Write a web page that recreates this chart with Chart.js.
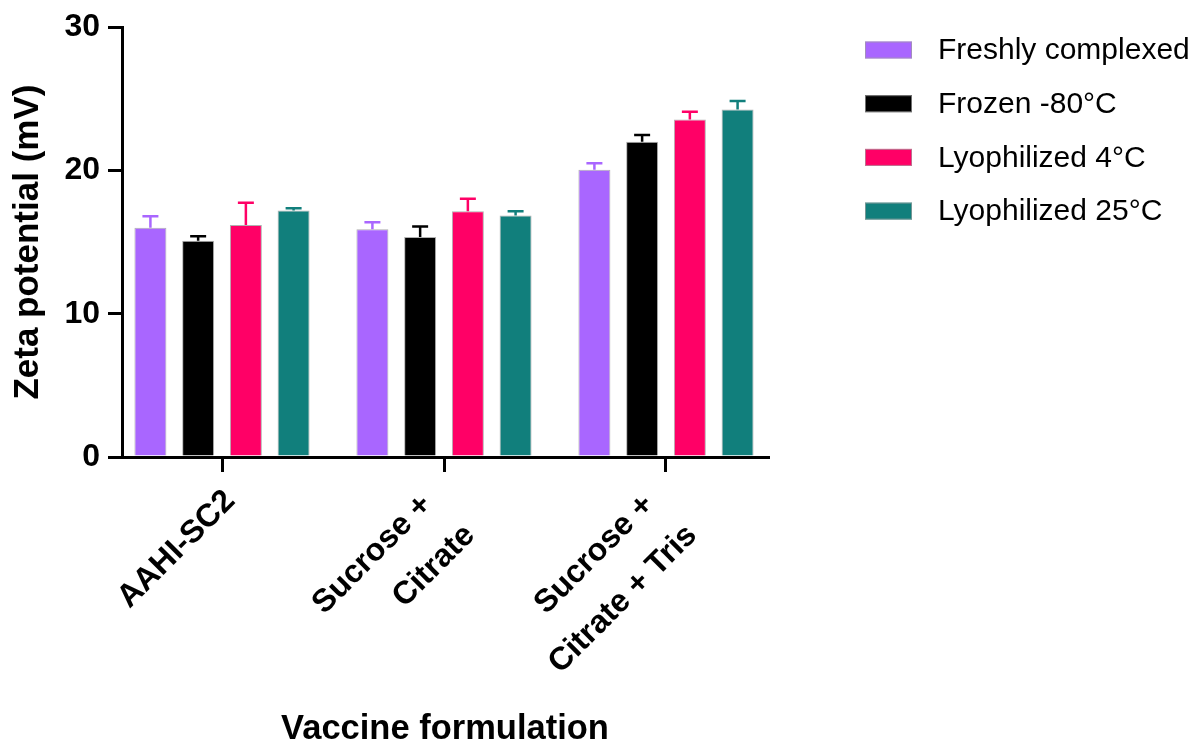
<!DOCTYPE html>
<html>
<head>
<meta charset="utf-8">
<script src="https://cdn.jsdelivr.net/npm/chart.js@4/dist/chart.umd.min.js"></script>
<style>
  html, body { margin: 0; padding: 0; background: #ffffff; }
  #wrap { width: 1197px; height: 747px; }
</style>
</head>
<body>
<div id="wrap"><canvas id="c" width="1197" height="747"></canvas></div>
<script>
// ---- data ----
const categories = ['AAHI-SC2', 'Sucrose + Citrate', 'Sucrose + Citrate + Tris'];
const tickLabels = [['AAHI-SC2'], ['Sucrose +', 'Citrate'], ['Sucrose +', 'Citrate + Tris']];
const seriesNames = ['Freshly complexed', 'Frozen -80\u00B0C', 'Lyophilized 4\u00B0C', 'Lyophilized 25\u00B0C'];
const seriesColors = ['#A966FF', '#000000', '#FF0066', '#117F7C'];

const freshly = [16.0, 15.9, 20.05];
const frozen = [15.1, 15.35, 22.0];
const lyo4 = [16.2, 17.15, 23.55];
const lyo25 = [17.2, 16.85, 24.25];

const freshlyErr = [0.8, 0.48, 0.46];
const frozenErr = [0.3, 0.74, 0.48];
const lyo4Err = [1.55, 0.88, 0.54];
const lyo25Err = [0.16, 0.3, 0.6];

const yTicks = [0, 10, 20, 30];

const seriesValues = [freshly, frozen, lyo4, lyo25];
const seriesErrors = [freshlyErr, frozenErr, lyo4Err, lyo25Err];

const FONT = "'Liberation Sans', Arial, Helvetica, sans-serif";

// ---- plugins ----
const errorBars = {
  id: 'errorBars',
  afterDatasetsDraw(chart) {
    const ctx = chart.ctx;
    const ys = chart.scales.y;
    chart.data.datasets.forEach((ds, di) => {
      const meta = chart.getDatasetMeta(di);
      const errs = seriesErrors[di];
      meta.data.forEach((bar, i) => {
        const v = seriesValues[di][i];
        const top = ys.getPixelForValue(v + errs[i]);
        const half = bar.width * 0.25;
        ctx.save();
        ctx.strokeStyle = seriesColors[di];
        ctx.lineWidth = 2.5;
        ctx.beginPath();
        ctx.moveTo(bar.x, bar.y);
        ctx.lineTo(bar.x, top);
        ctx.moveTo(bar.x - half, top);
        ctx.lineTo(bar.x + half, top);
        ctx.stroke();
        ctx.restore();
      });
    });
  }
};

const sideLegend = {
  id: 'sideLegend',
  afterDraw(chart) {
    const ctx = chart.ctx;
    const x0 = 865, boxW = 47, boxH = 17, textX = 938, y0 = 50, step = 53.7;
    ctx.save();
    ctx.font = "30px " + FONT;
    ctx.textBaseline = 'middle';
    ctx.textAlign = 'left';
    chart.data.datasets.forEach((ds, i) => {
      const cy = y0 + i * step;
      ctx.fillStyle = ds.backgroundColor;
      ctx.fillRect(x0, cy - boxH / 2, boxW, boxH);
      ctx.strokeStyle = 'rgba(160,160,160,0.7)';
      ctx.lineWidth = 1;
      ctx.strokeRect(x0 + 0.5, cy - boxH / 2 + 0.5, boxW - 1, boxH - 1);
      ctx.fillStyle = '#000000';
      ctx.fillText(ds.label, textX, cy + 1);
    });
    ctx.restore();
  }
};

// ---- chart ----
const datasets = seriesNames.map((name, di) => ({
  label: name,
  data: seriesValues[di].map((v, i) => ({ x: i, y: v })),
  backgroundColor: seriesColors[di],
  borderColor: 'rgba(150,150,150,0.75)',
  borderWidth: 1,
  categoryPercentage: 0.86,
  barPercentage: 0.67
}));

const isMulti = (c) => tickLabels[c.index] && tickLabels[c.index].length > 1;
// invisible trailing padding so that multi-line labels sit like the reference
const NB = '\u00A0';
const linePad = [NB.repeat(4), NB.repeat(3)];

new Chart(document.getElementById('c'), {
  type: 'bar',
  data: { datasets },
  options: {
    responsive: false,
    devicePixelRatio: 1,
    animation: false,
    layout: { padding: { left: 0, right: 429, top: 24, bottom: 0 } },
    plugins: {
      legend: { display: false },
      tooltip: { enabled: false }
    },
    scales: {
      x: {
        type: 'linear',
        min: -0.4505,
        max: 2.4595,
        offset: false,
        afterBuildTicks: (s) => { s.ticks = categories.map((c, i) => ({ value: i })); },
        afterFit: (s) => { s.height = 290; },
        grid: { offset: false, drawOnChartArea: false, drawTicks: true, tickLength: 15, lineWidth: 3, color: '#000000' },
        border: { display: true, color: '#000000', width: 3 },
        ticks: {
          autoSkip: false,
          minRotation: 45,
          maxRotation: 45,
          padding: -15.6,
          labelOffset: 8,
          color: '#000000',
          font: (c) => ({ family: FONT, size: 32, weight: 'bold', lineHeight: isMulti(c) ? 52 / 32 : 112 / 32 }),
          callback: (v) => {
            const lines = tickLabels[v];
            return lines.length > 1 ? lines.map((t, k) => t + linePad[k]) : lines;
          }
        },
        title: {
          display: true,
          text: 'Vaccine formulation',
          color: '#000000',
          font: { family: FONT, size: 34.5, weight: 'bold', lineHeight: 1 },
          padding: { top: 0, bottom: 0 }
        }
      },
      y: {
        min: 0,
        max: 30,
        afterBuildTicks: (s) => { s.ticks = yTicks.map(v => ({ value: v })); },
        afterFit: (s) => { s.width = 122; },
        grid: { drawOnChartArea: false, drawTicks: true, tickLength: 14, lineWidth: 3, color: '#000000' },
        border: { display: true, color: '#000000', width: 3 },
        ticks: {
          padding: 8,
          color: '#000000',
          font: { family: FONT, size: 32, weight: 'bold' }
        },
        title: {
          display: true,
          text: 'Zeta potential (mV)',
          color: '#000000',
          font: { family: FONT, size: 35, weight: 'bold' },
          padding: { top: 7, bottom: 0 }
        }
      }
    }
  },
  plugins: [errorBars, sideLegend]
});
</script>
</body>
</html>
